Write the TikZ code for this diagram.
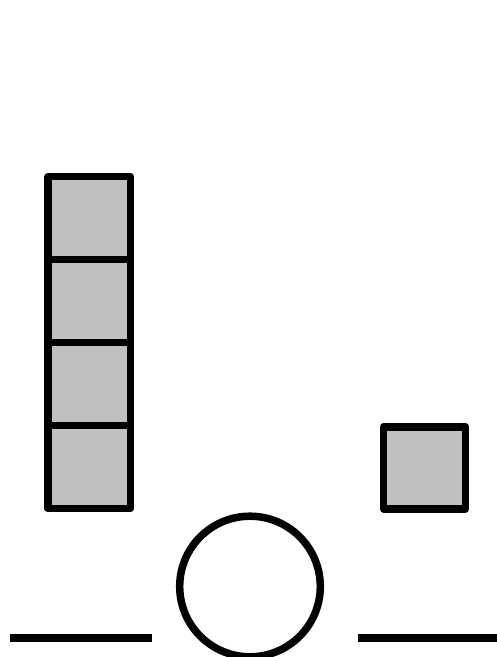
\documentclass[tikz,border=0pt]{standalone}
\definecolor{boxgray}{HTML}{C0C0C0}
\tikzset{
  blk/.style={draw=black, fill=boxgray, line width=7.5pt, line join=round, rectangle, inner sep=0pt, minimum width=82.5pt, minimum height=83pt},
  ring/.style={draw=black, fill=white, line width=7.5pt, circle, inner sep=0pt, minimum size=140.6pt},
  ground/.style={draw=black, line width=8pt}
}
\begin{document}
\begin{tikzpicture}[x=1pt,y=-1pt]
\useasboundingbox (0,0) rectangle (497,657);
\node[blk] (s1) at (89.3,218.2) {};
\node[blk] (s2) at (89.3,301.1) {};
\node[blk] (s3) at (89.3,384.0) {};
\node[blk] (s4) at (89.3,467.0) {};
\node[blk, minimum width=82pt, minimum height=82pt] (r1) at (424.7,467.8) {};
\node[ring] (c1) at (250,586.5) {};
\coordinate (l1a) at (10,638);
\coordinate (l1b) at (151.7,638);
\coordinate (l2a) at (357.7,638);
\coordinate (l2b) at (496.7,638);
\draw[ground] (l1a) -- (l1b);
\draw[ground] (l2a) -- (l2b);
\end{tikzpicture}
\end{document}
